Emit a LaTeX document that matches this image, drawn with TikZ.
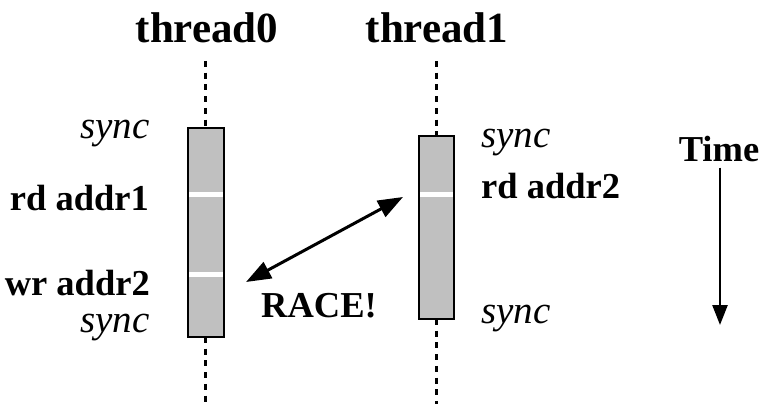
\documentclass[tikz,border=0pt]{standalone}
\usepackage{fontspec}
\setmainfont{Liberation Serif}
\usetikzlibrary{arrows.meta}
\begin{document}
\begin{tikzpicture}[x=1pt,y=-1pt,
  titletext/.style={font=\fontsize{43}{48}\selectfont\bfseries, inner sep=0pt},
  optext/.style={font=\fontsize{36.5}{40}\selectfont\bfseries, inner sep=0pt},
  synctext/.style={font=\fontsize{39}{44}\selectfont\itshape, inner sep=0pt},
  threadbox/.style={draw=black, line width=2pt, fill={rgb,255:red,192;green,192;blue,192}, inner sep=0pt, outer sep=0pt},
  lifeline/.style={line width=3.2pt, dash pattern=on 6pt off 5.7pt},
  band/.style={fill=white, draw=none},
  racearrow/.style={line width=3pt, {Triangle[length=25pt,width=18pt]}-{Triangle[length=25pt,width=18pt]}},
  timearrow/.style={line width=2.5pt, -{Triangle[length=20pt,width=15pt]}}
]
\useasboundingbox (0,0) rectangle (760,404);

% thread titles
\node[titletext, anchor=base] (t0) at (207,43) {thread0};
\node[titletext, anchor=base] (t1) at (437,43) {thread1};

% thread bars
\node[threadbox, minimum width=36pt, minimum height=209pt] (b0) at (205.5,232.5) {};
\node[threadbox, minimum width=35.5pt, minimum height=183pt] (b1) at (436.3,227.5) {};

% memory accesses as white bands across the bars
\fill[band] ([xshift=1pt]b0.west |- 0,191.8) rectangle ([xshift=-1pt]b0.east |- 0,197);
\fill[band] ([xshift=1pt]b0.west |- 0,271.7) rectangle ([xshift=-1pt]b0.east |- 0,276.8);
\fill[band] ([xshift=1pt]b1.west |- 0,191.8) rectangle ([xshift=-1pt]b1.east |- 0,197);

% lifelines
\coordinate (l0top) at (205.5,61);
\coordinate (l0bot) at (205.5,404);
\coordinate (l1top) at (436.3,61);
\coordinate (l1bot) at (436.3,404);
\draw[lifeline] (l0top) -- (b0.north);
\draw[lifeline] (b0.south) -- (l0bot);
\draw[lifeline] (l1top) -- (b1.north);
\draw[lifeline] (b1.south) -- (l1bot);

% thread0 labels
\node[synctext, anchor=base east] (s0a) at (150,138) {sync};
\node[optext, anchor=base east] (rd1) at (149,210) {rd addr1};
\node[optext, anchor=base east] (wr2) at (150,295) {wr addr2};
\node[synctext, anchor=base east] (s0b) at (150,332) {sync};

% thread1 labels
\node[synctext, anchor=base west] (s1a) at (481,147) {sync};
\node[optext, anchor=base west] (rd2) at (481,198) {rd addr2};
\node[synctext, anchor=base west] (s1b) at (481,323) {sync};

% race between the two accesses
\coordinate (rA) at (246,282);
\coordinate (rB) at (403,197);
\draw[racearrow] (rA) -- (rB);
\node[optext, anchor=base] (race) at (319,317) {RACE!};

% time axis
\node[optext, anchor=base] (time) at (719,161) {Time};
\coordinate (tEnd) at (720,325);
\draw[timearrow] (time.south -| tEnd) ++(0,6) -- (tEnd);
\end{tikzpicture}
\end{document}
